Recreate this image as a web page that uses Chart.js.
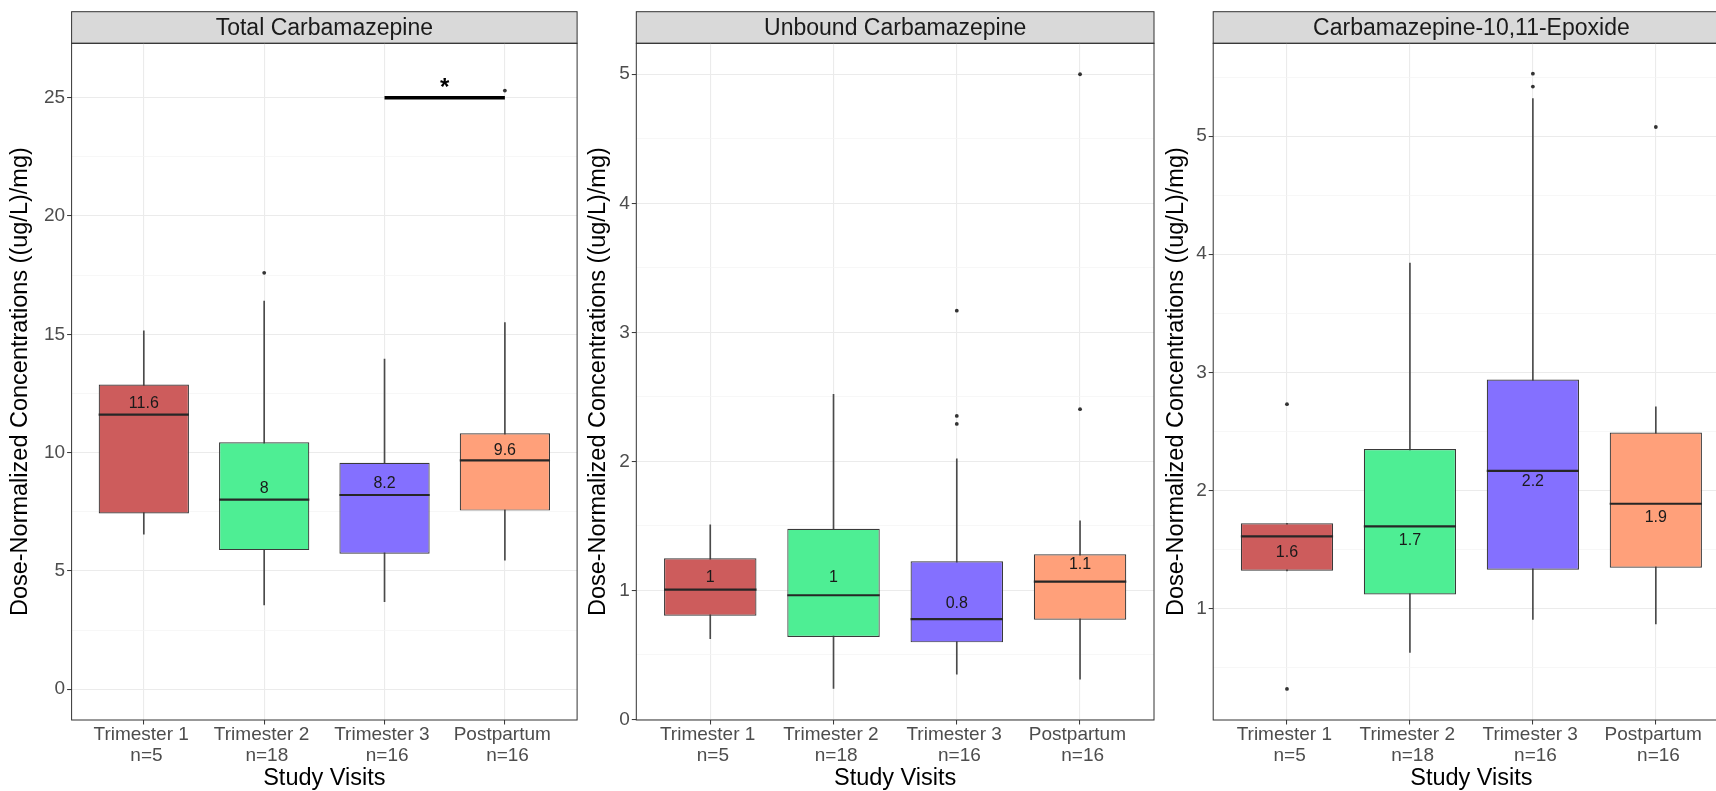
<!DOCTYPE html>
<html><head><meta charset="utf-8">
<script src="https://cdn.jsdelivr.net/npm/chart.js@4.4.1/dist/chart.umd.min.js"></script>
<style>
html,body{margin:0;padding:0;background:#fff;overflow:hidden;width:1716px;height:791px;position:relative;}
canvas{position:absolute;top:0;}
</style></head><body>
<canvas id="c1" width="585" height="791" style="left:0px"></canvas>
<canvas id="c2" width="580" height="791" style="left:585px"></canvas>
<canvas id="c3" width="575" height="791" style="left:1165px"></canvas>
<script>
// ---------- data ----------
const visits = ['Trimester 1', 'Trimester 2', 'Trimester 3', 'Postpartum'];
const counts = [5, 18, 16, 16];

// Total Carbamazepine
const totalLow  = [6.55, 3.56, 3.70, 5.45];
const totalQ1   = [7.43, 5.88, 5.73, 7.55];
const totalMed  = [11.61, 8.01, 8.21, 9.67];
const totalQ3   = [12.88, 10.44, 9.57, 10.82];
const totalHigh = [15.15, 16.40, 13.95, 15.50];
const totalOutliers = [[], [17.6], [], [25.3]];
const totalLabels = ['11.6', '8', '8.2', '9.6'];
const totalTicks = [0, 5, 10, 15, 20, 25];
const totalSigPair = [3, 4];
const totalSigY = 25;
const totalSigText = '*';

// Unbound Carbamazepine
const unboundLow  = [0.625, 0.239, 0.350, 0.311];
const unboundQ1   = [0.803, 0.638, 0.597, 0.772];
const unboundMed  = [1.006, 0.962, 0.777, 1.068];
const unboundQ3   = [1.248, 1.477, 1.225, 1.279];
const unboundHigh = [1.508, 2.520, 2.020, 1.539];
const unboundOutliers = [[], [], [3.168, 2.352, 2.290], [5.0, 2.404]];
const unboundLabels = ['1', '1', '0.8', '1.1'];
const unboundTicks = [0, 1, 2, 3, 4, 5];

// Carbamazepine-10,11-Epoxide
const epoLow  = [1.318, 0.627, 0.907, 0.867];
const epoQ1   = [1.318, 1.118, 1.327, 1.344];
const epoMed  = [1.610, 1.694, 2.165, 1.886];
const epoQ3   = [1.720, 2.349, 2.939, 2.490];
const epoHigh = [1.720, 3.926, 5.318, 2.707];
const epoOutliers = [[2.73, 0.317], [], [5.53, 5.42], [5.078]];
const epoLabels = ['1.6', '1.7', '2.2', '1.9'];
const epoTicks = [1, 2, 3, 4, 5];

// ---------- style ----------
const FONT = "'Liberation Sans', Arial, sans-serif";
Chart.defaults.font.family = FONT;
const fills = ['#CD5C5C', '#4EEE94', '#8470FF', '#FFA07A'];
const LINE = '#333333';
const YTITLE = 'Dose-Normalized Concentrations ((ug/L)/mg)';

function isMajor(v, majors) { return majors.some(m => Math.abs(m - v) < 1e-9); }

function buildPanel(id, p) {
  const step = p.ticks[1] - p.ticks[0];
  const all = [];
  p.ticks.forEach(m => { all.push(m); });
  p.ticks.forEach(m => { [m - step / 2, m + step / 2].forEach(v => {
    if (v >= p.min && v <= p.max && !all.some(a => Math.abs(a - v) < 1e-9)) all.push(v); }); });
  all.sort((a, b) => a - b);

  const outPts = [];
  p.outliers.forEach((arr, i) => arr.forEach(v => outPts.push({x: i + 1, y: v})));

  const datasets = [
    { type: 'bar', label: 'whiskers', order: 3, grouped: false,
      data: visits.map((_, i) => ({x: i + 1, y: [p.low[i], p.high[i]]})),
      backgroundColor: '#4A4A4A', borderWidth: 0, barThickness: 1 },
    { type: 'bar', label: 'boxes', order: 2, grouped: false,
      data: visits.map((_, i) => ({x: i + 1, y: [p.q1[i], p.q3[i]]})),
      backgroundColor: fills, borderColor: '#3A3A3A', borderWidth: 1.2, borderSkipped: false,
      categoryPercentage: 1, barPercentage: 0.75 },
    { type: 'scatter', label: 'outliers', order: 0, data: outPts,
      pointRadius: 1.9, pointBackgroundColor: LINE, pointBorderWidth: 0 }
  ];
  if (p.sigPair) {
    datasets.push({ type: 'line', label: 'sig', order: 1,
      data: p.sigPair.map(x => ({x: x, y: p.sigY})),
      borderColor: '#000', borderWidth: 3.4, pointRadius: 0, borderCapStyle: 'butt', fill: false });
  }

  const panelPlugin = {
    id: 'panel' + id,
    beforeDraw(chart) {
      const ctx = chart.ctx, ca = chart.chartArea, tb = chart.titleBlock;
      ctx.save();
      ctx.fillStyle = '#D9D9D9';
      ctx.fillRect(ca.left, tb.top, ca.right - ca.left, ca.top - tb.top);
      ctx.strokeStyle = LINE; ctx.lineWidth = 1;
      ctx.strokeRect(ca.left, tb.top, ca.right - ca.left, ca.top - tb.top);
      ctx.restore();
    },
    afterDatasetsDraw(chart) {
      const ctx = chart.ctx, xs = chart.scales.x, ys = chart.scales.y;
      const boxes = chart.getDatasetMeta(1).data;
      ctx.save();
      ctx.strokeStyle = '#262626'; ctx.lineWidth = 2.2;
      boxes.forEach((b, i) => {
        const y = ys.getPixelForValue(p.med[i]);
        ctx.beginPath(); ctx.moveTo(b.x - b.width / 2, y); ctx.lineTo(b.x + b.width / 2, y); ctx.stroke();
      });
      ctx.fillStyle = '#1A1A1A'; ctx.font = '16px ' + FONT;
      ctx.textAlign = 'center'; ctx.textBaseline = 'middle';
      p.labels.forEach((t, i) => {
        ctx.fillText(t, xs.getPixelForValue(i + 1), ys.getPixelForValue(Number(t) + p.labelShift));
      });
      if (p.sigPair) {
        ctx.fillStyle = '#000'; ctx.font = 'bold 24px ' + FONT; ctx.textBaseline = 'alphabetic';
        const mx = (xs.getPixelForValue(p.sigPair[0]) + xs.getPixelForValue(p.sigPair[1])) / 2;
        ctx.fillText(p.sigText, mx, ys.getPixelForValue(p.sigY) - 2.5);
      }
      ctx.restore();
    },
    afterDraw(chart) {
      const ctx = chart.ctx, ca = chart.chartArea;
      ctx.save(); ctx.strokeStyle = LINE; ctx.lineWidth = 1;
      ctx.strokeRect(ca.left, ca.top, ca.right - ca.left, ca.bottom - ca.top);
      ctx.restore();
    }
  };

  return new Chart(document.getElementById(id), {
    type: 'bar',
    data: { datasets },
    plugins: [panelPlugin],
    options: {
      responsive: false, animation: false, events: [],
      layout: { padding: { left: 0, right: p.padRight, top: 11.7, bottom: 0 } },
      plugins: {
        legend: { display: false }, tooltip: { enabled: false },
        title: { display: true, text: p.title, fullSize: false, color: '#1A1A1A',
                 font: { size: 23, weight: 'normal', lineHeight: 1 }, padding: { top: 5.3, bottom: 3.3 } }
      },
      scales: {
        x: {
          type: 'linear', min: 0.4, max: 4.6, offset: false,
          afterFit: s => { s.height = 71; },
          afterBuildTicks: s => { s.ticks = visits.map((_, i) => ({value: i + 1})); },
          ticks: { autoSkip: false, maxRotation: 0, minRotation: 0, padding: -1,
                   color: '#4D4D4D', font: { size: 19, lineHeight: 1.14 },
                   callback: v => { const i = Math.round(v) - 1; return [visits[i] + ' ', ' n=' + counts[i]]; } },
          grid: { offset: false, color: '#EBEBEB', lineWidth: 1.1, tickLength: 4.5, tickColor: LINE, tickWidth: 1 },
          border: { display: false },
          title: { display: true, text: 'Study Visits', color: '#000',
                   font: { size: 23.5, lineHeight: 1 }, padding: { top: 0, bottom: 1 } }
        },
        y: {
          type: 'linear', min: p.min, max: p.max,
          afterFit: s => { s.width = p.yWidth; },
          afterBuildTicks: s => { s.ticks = all.map(v => ({value: v})); },
          ticks: { autoSkip: false, padding: 2, color: '#4D4D4D', font: { size: 19 },
                   callback: v => isMajor(v, p.ticks) ? String(v) : '' },
          grid: {
            color: c => (c.tick && isMajor(c.tick.value, p.ticks)) ? '#EBEBEB' : '#F3F3F3',
            lineWidth: c => (c.tick && isMajor(c.tick.value, p.ticks)) ? 1.1 : 0.7,
            tickLength: 4.5, tickWidth: 1,
            tickColor: c => (c.tick && isMajor(c.tick.value, p.ticks)) ? LINE : 'rgba(0,0,0,0)'
          },
          border: { display: false },
          title: { display: true, text: YTITLE, color: '#000',
                   font: { size: 23.5, lineHeight: 1 }, padding: { top: p.yTitlePad, bottom: 0 } }
        }
      }
    }
  });
}

buildPanel('c1', {
  title: 'Total Carbamazepine', min: -1.3, max: 27.3, ticks: totalTicks,
  low: totalLow, q1: totalQ1, med: totalMed, q3: totalQ3, high: totalHigh,
  outliers: totalOutliers, labels: totalLabels, labelShift: 0.49,
  sigPair: totalSigPair, sigY: totalSigY, sigText: totalSigText,
  yWidth: 71.6, padRight: 7.9, yTitlePad: 9.25
});
buildPanel('c2', {
  title: 'Unbound Carbamazepine', min: -0.005, max: 5.24, ticks: unboundTicks,
  low: unboundLow, q1: unboundQ1, med: unboundMed, q3: unboundQ3, high: unboundHigh,
  outliers: unboundOutliers, labels: unboundLabels, labelShift: 0.1,
  yWidth: 51.3, padRight: 11, yTitlePad: 1.65
});
buildPanel('c3', {
  title: 'Carbamazepine-10,11-Epoxide', min: 0.054, max: 5.787, ticks: epoTicks,
  low: epoLow, q1: epoQ1, med: epoMed, q3: epoQ3, high: epoHigh,
  outliers: epoOutliers, labels: epoLabels, labelShift: -0.127,
  yWidth: 48.2, padRight: 10.4, yTitlePad: 0
});
</script>
</body></html>
